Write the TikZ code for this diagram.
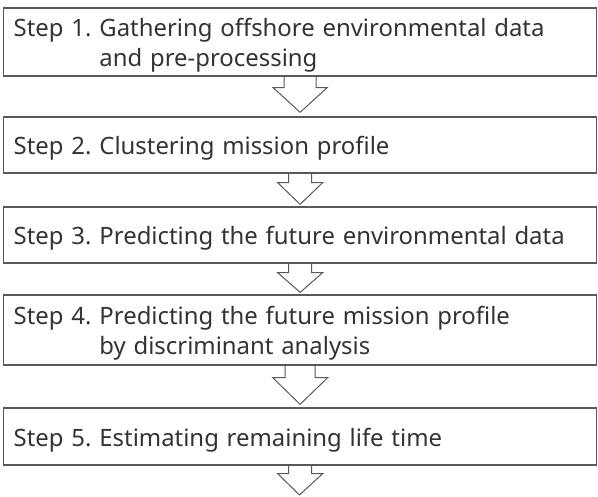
\documentclass[tikz,border=0pt]{standalone}
\usepackage{fontspec}
\setmainfont[WordSpace=1.25]{Noto Sans}
\usepackage{xcolor}
\usetikzlibrary{calc}

\definecolor{boxline}{HTML}{595959}
\definecolor{steptext}{HTML}{333333}

\tikzset{
  stepbox/.style={draw=boxline, line width=1.3pt, rectangle, anchor=west,
    minimum width=593pt, inner xsep=10pt, inner ysep=0pt, text height=20pt,
    font=\fontsize{23.9}{30}\selectfont, text=steptext},
  hollow/.style={draw=boxline, line width=1pt, line join=miter}
}

% label with the second line under the words, not under "Step n."
\newcommand{\steplabel}[2]{\makebox[573pt][l]{\begin{tabular}[t]{@{}l@{\hspace{8pt}}l@{}}#1 & #2\end{tabular}}}

% hollow block arrow: from box, tip, half shaft, half head, shaft length
\newcommand{\blockarrow}[5]{%
  \draw[hollow] ($(#1.south)+(-#3,0)$) -- ++(0,-#5) -- ++(#3-#4,0) -- (#2)
    -- ($(#1.south)+(#4,-#5)$) -- ++(#3-#4,0) -- ($(#1.south)+(#3,0)$);
}

\begin{document}
\begin{tikzpicture}[x=1pt, y=1pt]
    \useasboundingbox (0,0) rectangle (598,-497);

    \node[stepbox, minimum height=68pt, text depth=30pt] (step1) at (3,-42)
        {\steplabel{Step 1.}{Gathering offshore environmental data\\ & and pre-processing}};
    \node[stepbox, minimum height=56pt, text depth=0pt] (step2) at (3,-145)
        {\steplabel{Step 2.}{Clustering mission profile}};
    \node[stepbox, minimum height=56pt, text depth=0pt] (step3) at (3,-235)
        {\steplabel{Step 3.}{Predicting the future environmental data}};
    \node[stepbox, minimum height=70pt, text depth=30pt] (step4) at (3,-330)
        {\steplabel{Step 4.}{Predicting the future mission profile\\ & by discriminant analysis}};
    \node[stepbox, minimum height=57pt, text depth=0pt] (step5) at (3,-436.5)
        {\steplabel{Step 5.}{Estimating remaining life time}};
    \coordinate (finish) at (299.5,-495);

    \blockarrow{step1}{$(step2.north)+(0,4)$}{16}{27}{11}
    \blockarrow{step2}{$(step3.north)+(0,2)$}{11.5}{22.5}{9}
    \blockarrow{step3}{$(step4.north)+(0,2)$}{11.5}{22.5}{9}
    \blockarrow{step4}{$(step5.north)+(0,3)$}{15}{27.5}{12}
    \blockarrow{step5}{finish}{11.5}{22.5}{8}
\end{tikzpicture}
\end{document}
